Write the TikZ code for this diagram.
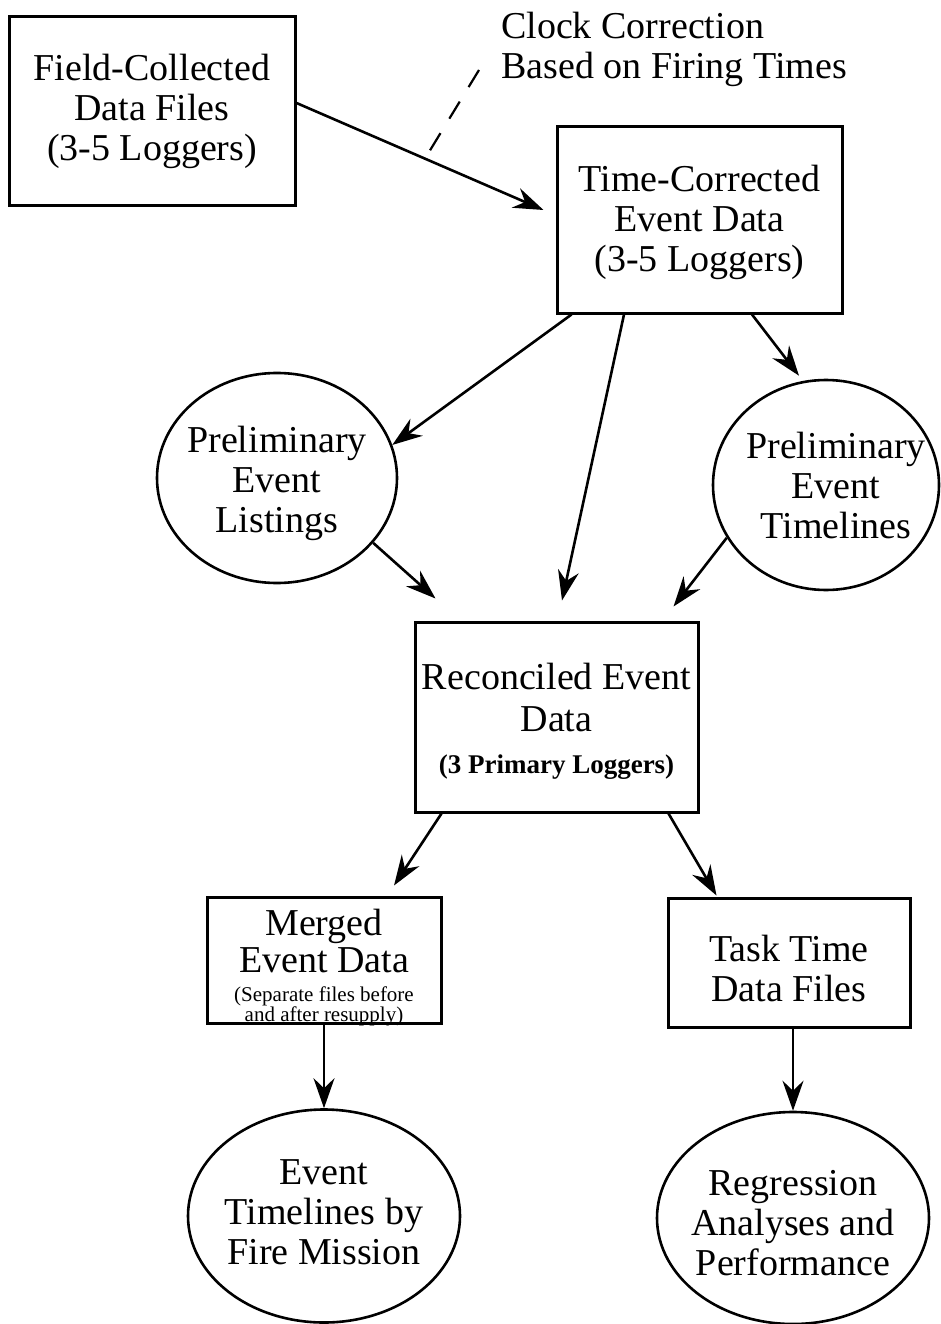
\documentclass[tikz,border=0pt]{standalone}
\usepackage{fontspec}
\setmainfont{Liberation Serif}
\usetikzlibrary{arrows.meta,shapes.geometric}
\begin{document}
\begin{tikzpicture}[x=1pt,y=-1pt,
  bigtext/.style={font=\fontsize{38}{40}\selectfont},
  box/.style={draw, line width=3pt, rectangle, inner sep=0pt, align=center, bigtext},
  oval/.style={draw, line width=2.6pt, ellipse, inner sep=-30pt, align=center, bigtext},
  flow/.style={line width=2.6pt, -{Stealth[length=30pt,width=21pt,inset=10pt]}},
  dashlink/.style={line width=2.2pt, dash pattern=on 20pt off 17pt}]
\useasboundingbox (0,0) rectangle (940,1324);

% nodes
\node[box, minimum width=286pt, minimum height=189pt] (b1) at (152,111.5)
  {Field-Collected\\Data Files\\(3-5 Loggers)};
\node[anchor=west, align=left, inner sep=0pt, bigtext] (clock) at (501,49)
  {Clock Correction\\Based on Firing Times};
\node[box, minimum width=285pt, minimum height=186pt] (b2) at (699.5,220)
  {\mbox{}\\[-8pt]Time-Corrected\\Event Data\\(3-5 Loggers)};
\node[oval, minimum width=240pt, minimum height=210pt] (pel) at (277,478)
  {\mbox{}\\[-2pt]Preliminary\\Event\\Listings};
\node[oval, minimum width=226pt, minimum height=210pt] (pet) at (826,485)
  {\hspace*{20pt}Preliminary\\\hspace*{20pt}Event\\\hspace*{20pt}Timelines};
\node[box, minimum width=283pt, minimum height=190pt] (b3) at (556.5,717)
  {\mbox{}\\[-6pt]Reconciled Event\\[2pt]Data\\[2pt]{\fontsize{27}{30}\selectfont\bfseries (3 Primary Loggers)}};
\node[box, inner ysep=-30pt, minimum width=234pt, minimum height=126pt] (b4) at (324,960)
  {\mbox{}\\[2pt]Merged\\[-3pt]Event Data\\[-11pt]{\fontsize{21}{22}\selectfont (Separate files before}\\[-20pt]{\fontsize{21}{22}\selectfont and after resupply)}};
\node[box, minimum width=242pt, minimum height=129pt] (b5) at (789,962.5)
  {\mbox{}\\[-2pt]Task Time\\Data Files};
\node[oval, minimum width=272pt, minimum height=213pt] (efm) at (324,1216)
  {Event\\Timelines by\\Fire Mission\\[-32pt]\mbox{}};
\node[oval, minimum width=272pt, minimum height=212pt] (rap) at (793,1218)
  {\mbox{}\\[-5pt]Regression\\Analyses and\\Performance};

\coordinate (d1) at (479,70);
\coordinate (d2) at (429,152);

% connectors
\draw[dashlink] (d1) -- (d2);
\draw[flow] ([yshift=8.5pt]b1.east) -- ([xshift=-12pt,yshift=10pt]b2.west);
\draw[flow] ([xshift=16pt]b2.south west) -- (pel.16);
\draw[flow] ([xshift=-75.5pt]b2.south) -- ([xshift=5.5pt,yshift=20pt]b3.north);
\draw[flow] ([xshift=52.5pt]b2.south) -- ([xshift=-27pt,yshift=3pt]pet.north);
\draw[flow] (pel.-34) -- ([xshift=22pt,yshift=22pt]b3.north west);
\draw[flow] (pet.208) -- ([xshift=-26pt,yshift=14pt]b3.north east);
\draw[flow] ([xshift=28pt]b3.south west) -- ([xshift=70pt,yshift=10pt]b4.north);
\draw[flow] ([xshift=-31pt]b3.south east) -- ([xshift=50pt,yshift=1pt]b5.north west);
\draw[flow] (b4.south) -- (b4.south |- efm.north);
\draw[flow] ([xshift=4pt]b5.south) -- (rap.north);
\end{tikzpicture}
\end{document}
